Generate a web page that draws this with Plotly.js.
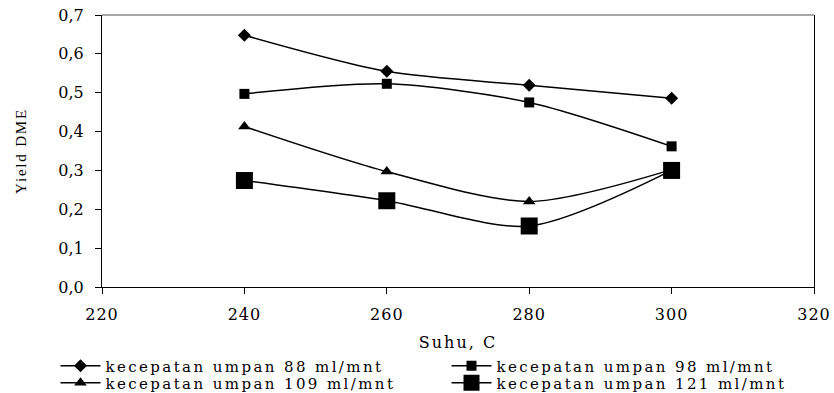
<!DOCTYPE html>
<html>
<head>
<meta charset="utf-8">
<script src="https://cdn.plot.ly/plotly-3.0.1.min.js"></script>
<style>
html,body{margin:0;padding:0;background:#fff;}
#chart{width:834px;height:393px;}
.legendtext, .infolayer g[class^="legend"] text{letter-spacing:2.4px !important;}
.xtitle{letter-spacing:2px;}
.ytitle{letter-spacing:1.8px;}
.xtick text{letter-spacing:1px;}
</style>
</head>
<body>
<div id="chart"></div>
<script>
const suhu = [240, 260, 280, 300];
const yield88 = [0.648, 0.555, 0.519, 0.486];
const yield98 = [0.497, 0.523, 0.475, 0.362];
const yield109 = [0.413, 0.297, 0.220, 0.302];
const yield121 = [0.274, 0.222, 0.157, 0.300];
const seriesNames = [
  'kecepatan umpan 88 ml/mnt',
  'kecepatan umpan 98 ml/mnt',
  'kecepatan umpan 109 ml/mnt',
  'kecepatan umpan 121 ml/mnt'
];
const xTicks = [220, 240, 260, 280, 300, 320];
const yTicks = [0, 0.1, 0.2, 0.3, 0.4, 0.5, 0.6, 0.7];

const FONT = 'DejaVu Serif, Liberation Serif, serif';
const values = [yield88, yield98, yield109, yield121];
const symbols = ['diamond', 'square', 'triangle-up', 'square'];
const sizes = [10, 10, 11, 17];
const legendRows = ['legend', 'legend', 'legend2', 'legend2'];

const traces = values.map((v, i) => ({
  x: suhu, y: v, name: seriesNames[i], type: 'scatter', mode: 'lines+markers',
  legend: legendRows[i],
  line: {color: '#000', width: 1.5, shape: 'spline', smoothing: 0.8},
  marker: {symbol: symbols[i], size: sizes[i], color: '#000'}
}));

const legendBase = {
  orientation: 'h', x: -0.0653, xanchor: 'left', yanchor: 'middle',
  entrywidth: 336, entrywidthmode: 'pixels',
  font: {family: FONT, size: 15}, tracegroupgap: 0, itemwidth: 40,
  bgcolor: 'rgba(0,0,0,0)'
};

const layout = {
  width: 834, height: 393,
  margin: {l: 102, r: 20, t: 15, b: 106, autoexpand: false},
  paper_bgcolor: '#fff', plot_bgcolor: '#fff',
  separators: ',.',
  font: {family: FONT, size: 16, color: '#000'},
  xaxis: {
    range: [220, 320], tickvals: xTicks, ticktext: xTicks.map(String),
    showgrid: false, zeroline: false, showline: true, mirror: false,
    linecolor: '#000', linewidth: 1, ticks: 'outside', ticklen: 6, tickcolor: '#000',
    ticklabelstandoff: 7,
    tickfont: {family: FONT, size: 16},
    title: {text: 'Suhu, C', font: {family: FONT, size: 16}, standoff: 13}
  },
  yaxis: {
    range: [0, 0.7], tickvals: yTicks, tickformat: '.1f',
    showgrid: false, zeroline: false, showline: true, mirror: true,
    linecolor: '#000', linewidth: 1, ticks: 'outside', ticklen: 6, tickcolor: '#000',
    ticklabelstandoff: 8,
    tickfont: {family: FONT, size: 16},
    title: {text: 'Yield DME', font: {family: 'Liberation Serif, serif', size: 15}, standoff: 28}
  },
  shapes: [{type: 'line', xref: 'paper', yref: 'paper', x0: 0, x1: 1, y0: 1, y1: 1,
            line: {color: '#888', width: 1.5}}],
  showlegend: true,
  legend: Object.assign({}, legendBase, {y: -0.2904}),
  legend2: Object.assign({}, legendBase, {y: -0.3529})
};

Plotly.newPlot('chart', traces, layout, {displayModeBar: false, staticPlot: true});
</script>
</body>
</html>
